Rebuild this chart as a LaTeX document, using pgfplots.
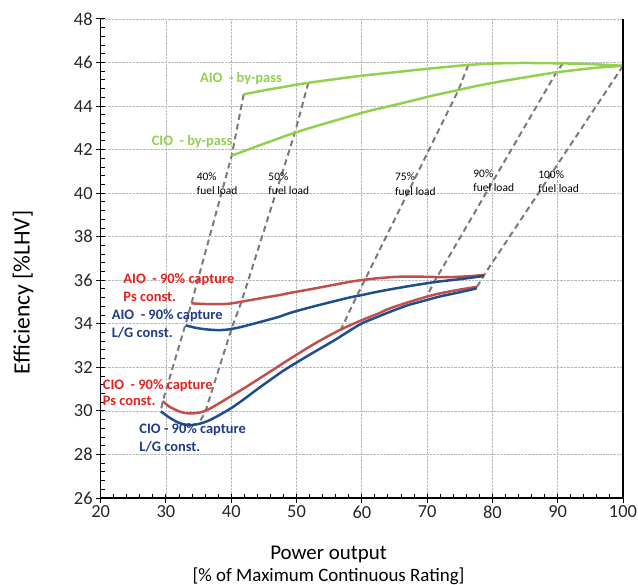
\documentclass[border=0pt]{standalone}
\usepackage{pgfplots}
\pgfplotsset{compat=1.18}
\usepackage{fontspec}
\setmainfont{Carlito}
\definecolor{cgreen}{HTML}{92D050}
\definecolor{cred}{HTML}{C0504D}
\definecolor{cblue}{HTML}{1F4E8C}
\definecolor{tred}{HTML}{E42020}
\definecolor{tblue}{HTML}{1F3C88}
\definecolor{dgray}{HTML}{7A7A7A}
\newcommand\capf{\fontsize{14.5}{17}\selectfont\bfseries}
\newcommand\fuelf{\fontsize{11.5}{14}\selectfont}
\begin{document}
\begin{tikzpicture}
\useasboundingbox (-100.7bp,-87bp) rectangle (537.3bp,498bp);
\begin{axis}[
  at={(0,0)}, anchor=south west, scale only axis,
  width=522.3bp, height=479bp,
  xmin=20, xmax=100, ymin=26, ymax=48,
  xtick={20,30,...,100}, ytick={26,28,...,48},
  minor x tick num=4, minor y tick num=4,
  axis x line*=bottom, axis y line*=left,
  axis line style={black, line width=1.3pt, -},
  tick align=center, major tick length=9bp, minor tick length=4bp,
  every minor x tick/.append style={yshift=2bp},
  every minor y tick/.append style={xshift=2bp},
  tick style={black, line width=1pt},
  grid=major, grid style={gray!55, densely dotted, line width=0.8pt},
  clip=false,
  /pgf/number format/assume math mode=true,
  ticklabel style={font=\fontsize{18.5}{20}\selectfont, text=black!85},
]
% dashed fuel load lines
\addplot[dgray, line width=2pt, dash pattern=on 6pt off 4pt] coordinates {(41.9,44.54) (40.06,41.72) (33.9,34.94) (32.95,33.93) (29.5,30.45) (29.2,29.98)};
\addplot[dgray, line width=2pt, dash pattern=on 6pt off 4pt] coordinates {(51.8,45.07) (49.75,42.78) (41.6,35.05) (40.06,33.79) (36.0,29.94) (35.0,29.42)};
\addplot[dgray, line width=2pt, dash pattern=on 6pt off 4pt] coordinates {(76.3,45.89) (74.8,44.74) (60.5,36.04) (59.2,35.26) (56.6,33.62)};
\addplot[dgray, line width=2pt, dash pattern=on 6pt off 4pt] coordinates {(90.8,45.96) (89.8,45.55) (71.5,36.14) (71.0,35.9) (69.9,35.2)};
\addplot[dgray, line width=2pt, dash pattern=on 6pt off 4pt] coordinates {(100,45.85) (78.7,36.23) (77.6,35.68)};
% green by-pass
\addplot[cgreen, line width=2.5pt, smooth] coordinates {(41.9,44.54) (45,44.72) (48,44.88) (51.8,45.07) (55,45.2) (58,45.32) (61,45.43) (64.3,45.53) (68,45.65) (72,45.77) (76.3,45.89) (80.6,45.96) (85,45.98) (90.8,45.96) (95,45.93) (100,45.85)};
\addplot[cgreen, line width=2.5pt, smooth] coordinates {(40.06,41.72) (43,42.05) (46,42.38) (49.75,42.78) (53,43.08) (57,43.43) (61,43.77) (64.3,44.0) (68,44.27) (71,44.49) (74.8,44.74) (78,44.95) (82,45.17) (86,45.37) (89.8,45.55) (94,45.7) (97,45.79) (100,45.85)};
% AIO Ps const (red)
\addplot[cred, line width=2.5pt, smooth] coordinates {(33.9,34.94) (36,34.91) (38,34.9) (39.8,34.93) (42,35.04) (45,35.2) (47.4,35.32) (49,35.42) (52,35.58) (55,35.75) (58,35.92) (60,36.01) (62,36.08) (64.8,36.15) (67,36.17) (69.9,36.16) (73,36.14) (76,36.18) (78.7,36.24)};
% AIO L/G const (blue)
\addplot[cblue, line width=2.5pt, smooth] coordinates {(33.0,33.93) (34.5,33.82) (36,33.75) (38,33.71) (39.5,33.74) (41,33.82) (43,33.97) (45,34.13) (47.4,34.33) (49,34.5) (52,34.75) (55,34.98) (58,35.2) (60,35.32) (62,35.45) (64.3,35.58) (67,35.72) (69.9,35.86) (72,35.95) (75,36.05) (78.7,36.2)};
% CIO Ps const (red)
\addplot[cred, line width=2.5pt, smooth] coordinates {(29.5,30.45) (30.5,30.2) (32,29.98) (33,29.9) (34.3,29.89) (35.5,29.95) (37,30.15) (39.8,30.65) (42,31.05) (45,31.62) (48,32.2) (50,32.58) (53,33.13) (56.6,33.71) (60,34.17) (62.5,34.47) (64.3,34.71) (67,34.98) (69.9,35.24) (72,35.4) (75,35.57) (77.6,35.70)};
% CIO L/G const (blue)
\addplot[cblue, line width=2.5pt, smooth] coordinates {(29.2,29.98) (30.5,29.7) (32,29.45) (33.5,29.35) (35,29.4) (36.5,29.55) (38,29.78) (40,30.13) (42,30.55) (44,31.0) (46,31.43) (48,31.85) (50,32.22) (52,32.58) (54,32.93) (56,33.28) (58,33.66) (60,34.02) (62.5,34.33) (64.3,34.55) (67,34.85) (69.9,35.09) (72,35.26) (75,35.45) (77.6,35.63)};
% right border
\draw[black, line width=1.8pt] (rel axis cs:1,0) -- (rel axis cs:1,1);
% labels
\node[anchor=base west, inner sep=0pt, text=cgreen, font=\capf] at (axis cs:35.2,45.07) {AIO~~- by-pass};
\node[anchor=base west, inner sep=0pt, text=cgreen, font=\capf] at (axis cs:27.8,42.21) {CIO~~- by-pass};
\node[anchor=base west, inner sep=0pt, text=tred, font=\capf] at (axis cs:23.46,35.855) {AIO~~- 90\% capture};
\node[anchor=base west, inner sep=0pt, text=tred, font=\capf] at (axis cs:23.46,35.04) {Ps const.};
\node[anchor=base west, inner sep=0pt, text=tblue, font=\capf] at (axis cs:21.68,34.20) {AIO~~- 90\% capture};
\node[anchor=base west, inner sep=0pt, text=tblue, font=\capf] at (axis cs:21.68,33.36) {L/G const.};
\node[anchor=base west, inner sep=0pt, text=tred, font=\capf] at (axis cs:20.31,30.99) {CIO~~- 90\% capture};
\node[anchor=base west, inner sep=0pt, text=tred, font=\capf] at (axis cs:20.31,30.25) {Ps const.};
\node[anchor=base west, inner sep=0pt, text=tblue, font=\capf] at (axis cs:25.91,28.95) {CIO - 90\% capture};
\node[anchor=base west, inner sep=0pt, text=tblue, font=\capf] at (axis cs:25.91,28.15) {L/G const.};
% fuel load labels
\node[anchor=base west, inner sep=0pt, font=\fuelf] at (axis cs:34.7,40.60) {40\%};
\node[anchor=base west, inner sep=0pt, font=\fuelf] at (axis cs:34.7,39.95) {fuel load};
\node[anchor=base west, inner sep=0pt, font=\fuelf] at (axis cs:45.67,40.60) {50\%};
\node[anchor=base west, inner sep=0pt, font=\fuelf] at (axis cs:45.67,39.95) {fuel load};
\node[anchor=base west, inner sep=0pt, font=\fuelf] at (axis cs:65.07,40.57) {75\%};
\node[anchor=base west, inner sep=0pt, font=\fuelf] at (axis cs:65.07,39.91) {fuel load};
\node[anchor=base west, inner sep=0pt, font=\fuelf] at (axis cs:77.06,40.71) {90\%};
\node[anchor=base west, inner sep=0pt, font=\fuelf] at (axis cs:77.06,40.09) {fuel load};
\node[anchor=base west, inner sep=0pt, font=\fuelf] at (axis cs:87.0,40.68) {100\%};
\node[anchor=base west, inner sep=0pt, font=\fuelf] at (axis cs:87.0,40.03) {fuel load};
% axis titles
\node[anchor=base, inner sep=0pt, rotate=90, font=\fontsize{23.5}{26}\selectfont] at (axis cs:9.1,35.44) {Efficiency [\%LHV]};
\node[anchor=base, inner sep=0pt, font=\fontsize{21}{24}\selectfont] at (axis cs:54.9,23.17) {Power output};
\node[anchor=base, inner sep=0pt, font=\fontsize{19}{22}\selectfont] at (axis cs:54.9,22.185) {[\% of Maximum Continuous Rating]};
\end{axis}
\end{tikzpicture}
\end{document}
